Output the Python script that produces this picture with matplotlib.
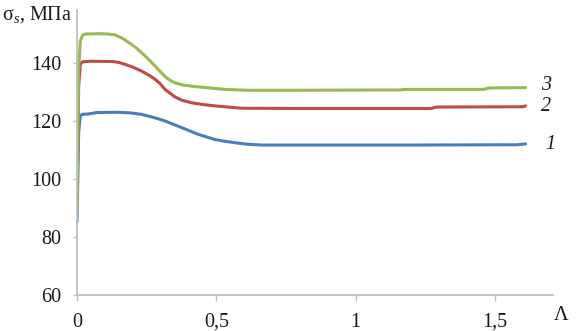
import matplotlib
matplotlib.use("Agg")
import matplotlib.pyplot as plt
import numpy as np

plt.rcParams['font.family'] = ['Liberation Serif', 'DejaVu Serif']
plt.rcParams['mathtext.fontset'] = 'custom'
plt.rcParams['mathtext.rm'] = 'Liberation Serif'
plt.rcParams['mathtext.it'] = 'Liberation Serif:italic'

# Series data (Λ, σs in MPa)
x3 = [0.0, 0.006, 0.012, 0.02, 0.03, 0.08, 0.11, 0.136, 0.16, 0.19, 0.21, 0.244, 0.28, 0.30, 0.32, 0.335, 0.35, 0.38, 0.42, 0.53, 0.61, 0.80, 1.16, 1.18, 1.46, 1.48, 1.61]
y3 = [89, 138, 147.5, 149.6, 150.0, 150.1, 150.0, 149.7, 148.7, 146.8, 145.4, 142.5, 139.0, 136.9, 135.0, 134.0, 133.2, 132.4, 131.9, 130.9, 130.6, 130.6, 130.7, 130.9, 130.9, 131.4, 131.5]

x2 = [0.0, 0.006, 0.012, 0.02, 0.05, 0.13, 0.15, 0.17, 0.20, 0.23, 0.26, 0.28, 0.30, 0.316, 0.335, 0.35, 0.375, 0.41, 0.45, 0.495, 0.59, 0.80, 1.27, 1.29, 1.60, 1.61]
y2 = [90.5, 132, 139.5, 140.4, 140.6, 140.5, 140.2, 139.6, 138.6, 137.3, 135.7, 134.4, 132.7, 130.9, 129.5, 128.4, 127.2, 126.3, 125.7, 125.2, 124.4, 124.3, 124.3, 124.8, 124.9, 125.2]

x1 = [0.0, 0.006, 0.012, 0.02, 0.04, 0.07, 0.14, 0.19, 0.23, 0.256, 0.29, 0.316, 0.376, 0.435, 0.495, 0.53, 0.567, 0.61, 0.663, 0.90, 1.20, 1.58, 1.61]
y1 = [85.3, 116, 121.8, 122.3, 122.4, 122.9, 123.0, 122.8, 122.3, 121.7, 120.8, 120.0, 117.7, 115.4, 113.6, 113.0, 112.5, 112.0, 111.7, 111.7, 111.7, 111.8, 112.1]

yticks = [60, 80, 100, 120, 140]
xticks = [0, 0.5, 1, 1.5]
xticklabels = ['0', '0,5', '1', '1,5']
series_labels = ['1', '2', '3']

fs = 14.5
fig = plt.figure(figsize=(5.81, 3.31), dpi=100)
ax = fig.add_axes([0.1325, 0.109, 0.82, 0.861])

ax.plot(x1, y1, color='#4a7ebb', lw=2.2, solid_capstyle='round', solid_joinstyle='round')
ax.plot(x2, y2, color='#be4b48', lw=2.2, solid_capstyle='round', solid_joinstyle='round')
ax.plot(x3, y3, color='#98b954', lw=2.2, solid_capstyle='round', solid_joinstyle='round')

ax.set_xlim(0, 1.71)
ax.set_ylim(60, 158.3)
ax.set_yticks(yticks)
ax.set_xticks(xticks)
ax.set_xticklabels(xticklabels)

for s in ['top', 'right']:
    ax.spines[s].set_visible(False)
for s in ['left', 'bottom']:
    ax.spines[s].set_color('#bfbfbf')
    ax.spines[s].set_linewidth(1.3)
ax.tick_params(axis='both', colors='#bfbfbf', labelcolor='#1a1a1a', labelsize=fs, width=1)
ax.tick_params(axis='x', length=4, pad=9)
ax.tick_params(axis='y', length=3, pad=8)

# curve labels
ax.text(1.665, 132.3, series_labels[2], fontsize=fs, style='italic', va='center', ha='left', color='#1a1a1a')
ax.text(1.665, 125.0, series_labels[1], fontsize=fs, style='italic', va='center', ha='left', color='#1a1a1a')
ax.text(1.68, 111.8, series_labels[0], fontsize=fs, style='italic', va='center', ha='left', color='#1a1a1a')

fig.text(0.003, 0.955, 'σ$_s$, МПа', fontsize=fs, ha='left', va='center', color='#1a1a1a')
fig.text(0.965, 0.048, 'Λ', fontsize=fs, ha='center', va='center', color='#1a1a1a')

fig.savefig('out.png', dpi=100)
